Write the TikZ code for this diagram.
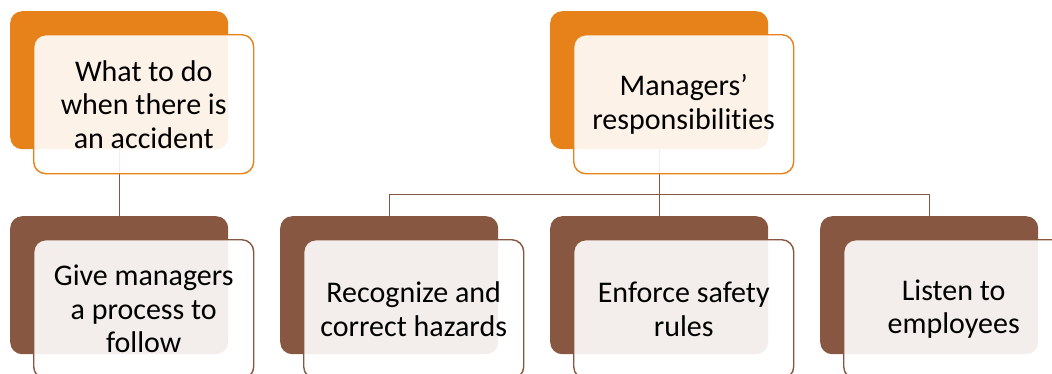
\documentclass[tikz,border=0pt]{standalone}
\usepackage{fontspec}
\setmainfont{Carlito}[Ligatures=CommonOff]
\definecolor{orng}{RGB}{230,130,25}
\definecolor{brwn}{RGB}{135,87,65}
\begin{document}
\begin{tikzpicture}[x=1pt,y=-1pt,
  backbox/.style={draw=none, fill=#1, rounded corners=12pt, minimum width=218pt, minimum height=138pt, anchor=north west, inner sep=0pt},
  frontbox/.style={draw=#1, line width=1.4pt, fill=white, fill opacity=0.9, text opacity=1, rounded corners=12pt, minimum width=220pt, minimum height=139pt, anchor=north west, inner sep=0pt, align=center, font=\fontsize{30}{33.5}\selectfont},
  link/.style={draw=brwn, line width=1.4pt}]
\useasboundingbox (0,0) rectangle (1052,373);
% back boxes
\node[backbox=orng] (b1) at (10,11) {};
\node[backbox=orng] (b2) at (550,11) {};
\node[backbox=brwn] (b3) at (10,216) {};
\node[backbox=brwn] (b4) at (280,216) {};
\node[backbox=brwn] (b5) at (550,216) {};
\node[backbox=brwn] (b6) at (820,216) {};
% connectors
\draw[link] (b1.south) -- (b3.north);
\path (b2.south) ++(0,45) coordinate (hub);
\draw[link] (b2.south) -- (hub);
\draw[link] (b4.north) |- (hub) -| (b6.north);
\draw[link] (hub) -- (b5.north);
% front boxes
\node[frontbox=orng] (f1) at (33,34) {What to do\\when there is\\an accident};
\node[frontbox=orng] (f2) at (573,34) {Managers’\\responsibilities};
\node[frontbox=brwn] (f3) at (33,239) {Give managers\\a process to\\follow};
\node[frontbox=brwn] (f4) at (303,239) {Recognize and\\correct hazards};
\node[frontbox=brwn] (f5) at (573,239) {Enforce safety\\rules};
\node[frontbox=brwn] (f6) at (843,239) {Listen to\\employees};
\end{tikzpicture}
\end{document}
